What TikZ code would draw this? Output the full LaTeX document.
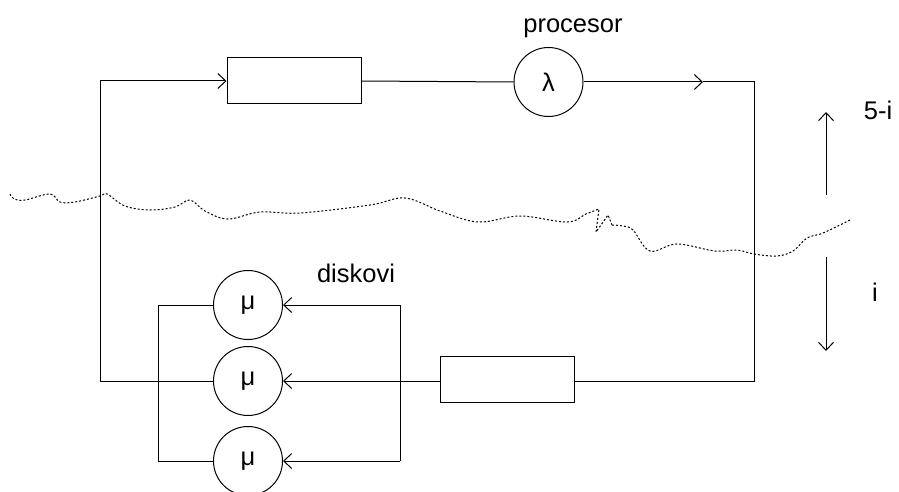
\documentclass[tikz,border=0pt]{standalone}
\usepackage{fontspec}
\setmainfont{Liberation Sans}
\usetikzlibrary{arrows.meta}
\begin{document}
\begin{tikzpicture}[x=1pt,y=-1pt,
  line width=1pt,
  every node/.style={font=\fontsize{25.5}{30}\selectfont},
  srv/.style={draw,circle,minimum size=69pt,inner sep=0pt},
  que/.style={draw,rectangle,minimum width=134pt,minimum height=46pt,inner sep=0pt},
  arr/.style={-{Straight Barb[length=8pt,width=15pt]}},
  wavy/.style={line width=1pt,dash pattern=on 2pt off 2pt}]
\useasboundingbox (0,0) rectangle (899,492);
% top row
\node[que] (q1) at (294,81) {};
\node[srv] (lam) at (548.5,82) {λ};
\node[anchor=base] (proc) at (573,33) {procesor};
\coordinate (tl) at (100,81);
\coordinate (tr) at (754,82);
\coordinate (m1) at (703,82);
% bottom row
\node[que] (q2) at (507,379) {};
\coordinate (br) at (754,381);
\coordinate (bl) at (100,381);
\node[srv] (mu1) at (248,305) {μ};
\node[srv] (mu2) at (248,381) {μ};
\node[srv] (mu3) at (248,461) {μ};
\node[anchor=base] (disk) at (356,282) {diskovi};
\coordinate (rj1) at (400,305);
\coordinate (rj2) at (400,381);
\coordinate (rj3) at (400,461);
\coordinate (lj1) at (158,305);
\coordinate (lj2) at (158,381);
\coordinate (lj3) at (158,461);
% connectors
\draw[arr] (tl) -- (q1.west);
\draw (q1.east) -- (lam.west);
\draw[arr] (lam.east) -- (m1);
\draw (m1) -- (tr) -- (br) -- (q2.east |- br);
\draw (q2.west |- rj2) -- (rj2);
\draw[arr] (rj2) -- (mu2.east);
\draw (rj1) -- (rj3);
\draw[arr] (rj1) -- (mu1.east);
\draw[arr] (rj3) -- (mu3.east);
\draw (mu2.west) -- (bl) -- (tl);
\draw (lj1) -- (lj3);
\draw (mu1.west) -- (lj1);
\draw (mu3.west) -- (lj3);
% side arrows
\coordinate (ua0) at (826,195);
\coordinate (ua1) at (826,112);
\coordinate (da0) at (826,257);
\coordinate (da1) at (826,351);
\draw[arr] (ua0) -- (ua1);
\draw[arr] (da0) -- (da1);
\node[anchor=base west] (t5) at (860,120) {5-i};
\node[anchor=base] (ti) at (875,301) {i};
% wavy dotted boundary
\draw[wavy] plot[smooth,tension=0.6] coordinates {(10,194) (14,199) (25,200) (50,194) (60,202) (75,202) (100,196) (107,194) (125,206) (150,210) (175,207) (190,200) (205,211) (228,219) (260,212) (300,213) (370,205) (405,198) (440,211) (478,222) (520,216) (567,222) (586,214) (599,209)}
  -- (596,232) -- (608,215) -- (612,225);
\draw[wavy] plot[smooth,tension=0.6] coordinates {(612,225) (623,226) (633,230) (650,251) (677,244) (715,251) (737,250) (754,254) (777,256) (793,251) (807,238) (823,233) (850,220)};
\end{tikzpicture}
\end{document}
